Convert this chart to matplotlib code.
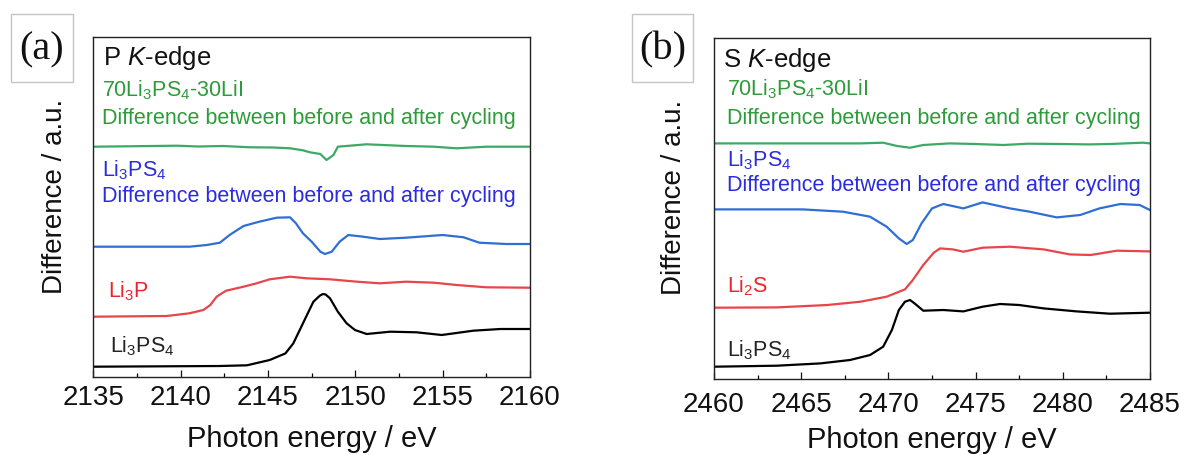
import matplotlib
matplotlib.use("Agg")
import matplotlib.pyplot as plt
from matplotlib.patches import Rectangle

plt.rcParams['font.family'] = ['Liberation Sans', 'DejaVu Sans']
plt.rcParams['mathtext.fontset'] = 'custom'
plt.rcParams['mathtext.rm'] = 'Liberation Sans'
plt.rcParams['mathtext.it'] = 'Liberation Sans:italic'
plt.rcParams['mathtext.bf'] = 'Liberation Sans:bold'

# ---------------- Panel (a): P K-edge ----------------
p_ticks = [2135, 2140, 2145, 2150, 2155, 2160]

p_black_x = [2135.0, 2142.25, 2143.8, 2145.1, 2146.0, 2146.45, 2147.0, 2147.6, 2147.98, 2148.15, 2148.3,
             2148.55, 2149.0, 2149.5, 2149.98, 2150.65, 2152.0, 2153.5, 2154.95, 2156.75, 2158.3, 2160.0]
p_black_y = [10.6, 11.3, 12.0, 17.3, 23.9, 33.9, 53.9, 75.6, 81.8, 83.3, 82.8,
             79.0, 65.6, 54.0, 47.3, 43.3, 45.6, 45.0, 42.3, 46.6, 48.3, 48.3]

p_red_x = [2135.0, 2139.2, 2140.5, 2141.3, 2141.7, 2142.06, 2142.6, 2143.6, 2144.35, 2145.1,
           2146.26, 2147.2, 2148.55, 2150.1, 2151.4, 2152.9, 2154.5, 2155.8, 2157.5, 2160.0]
p_red_y = [60.6, 61.3, 64.0, 67.3, 72.3, 80.6, 86.6, 90.6, 94.0, 98.0,
           100.6, 99.0, 98.0, 95.6, 94.0, 95.6, 94.6, 92.3, 90.0, 89.6]

p_blue_x = [2135.0, 2140.5, 2141.5, 2142.25, 2142.8, 2143.6, 2144.5, 2145.5, 2146.26, 2146.6,
            2147.0, 2147.5, 2148.0, 2148.26, 2148.65, 2149.1, 2149.6, 2150.45, 2151.4, 2152.9,
            2155.0, 2156.2, 2157.1, 2158.65, 2160.0]
p_blue_y = [130.6, 130.6, 132.3, 134.6, 142.3, 151.3, 155.6, 159.6, 160.0, 154.0,
            144.0, 135.6, 125.6, 123.3, 125.6, 135.6, 142.3, 140.6, 138.3, 139.6,
            142.3, 140.0, 134.6, 133.3, 133.3]

p_green_x = [2135.0, 2137.0, 2139.8, 2141.0, 2142.4, 2144.0, 2145.3, 2146.26, 2147.0, 2147.4,
             2148.0, 2148.35, 2148.75, 2149.0, 2150.65, 2152.9, 2154.5, 2155.8, 2157.5, 2160.0]
p_green_y = [230.6, 231.0, 231.6, 230.8, 231.3, 230.0, 229.8, 229.0, 227.0, 225.0,
             223.3, 217.3, 222.3, 230.6, 233.0, 231.3, 230.6, 229.0, 230.6, 230.6]

# ---------------- Panel (b): S K-edge ----------------
s_ticks = [2460, 2465, 2470, 2475, 2480, 2485]

s_black_x = [2460.0, 2463.6, 2466.1, 2467.8, 2468.95, 2469.7, 2470.2, 2470.6, 2470.95, 2471.24,
             2471.5, 2472.0, 2473.15, 2474.3, 2475.4, 2476.4, 2477.5, 2478.9, 2480.8, 2482.7, 2485.0]
s_black_y = [12.3, 13.3, 15.6, 19.0, 24.0, 32.3, 49.0, 69.0, 77.3, 79.0,
             75.6, 68.3, 69.0, 67.6, 72.3, 75.0, 74.0, 70.6, 67.6, 65.3, 66.3]

s_red_x = [2460.0, 2463.6, 2466.5, 2468.4, 2469.9, 2470.95, 2471.4, 2472.0, 2472.6, 2472.96,
           2473.7, 2474.3, 2475.4, 2476.97, 2478.9, 2480.4, 2481.6, 2483.1, 2485.0]
s_red_y = [71.3, 71.6, 74.0, 77.3, 82.3, 89.6, 99.0, 114.0, 126.3, 130.6,
           129.6, 127.3, 131.3, 132.3, 129.6, 124.6, 124.0, 128.3, 127.6]

s_blue_x = [2460.0, 2465.1, 2467.4, 2468.95, 2469.9, 2470.6, 2471.05, 2471.4, 2471.9, 2472.5,
            2473.15, 2474.3, 2475.4, 2476.97, 2478.1, 2479.65, 2481.0, 2482.1, 2483.3, 2484.4, 2485.0]
s_blue_y = [169.6, 169.6, 167.3, 162.3, 152.3, 140.6, 135.0, 139.0, 155.6, 170.6,
            175.0, 170.6, 176.6, 170.6, 167.3, 161.6, 164.0, 170.6, 175.0, 174.0, 169.0]

s_green_x = [2460.0, 2465.0, 2468.4, 2469.7, 2470.5, 2471.24, 2472.0, 2473.5, 2475.0, 2476.6,
             2478.0, 2479.9, 2481.5, 2482.7, 2484.6, 2485.0]
s_green_y = [235.6, 235.6, 235.6, 236.3, 233.0, 231.3, 234.0, 235.6, 235.0, 234.0,
             235.3, 235.0, 234.6, 235.0, 236.3, 235.6]

# colours
LINE_GREEN, TEXT_GREEN = '#3caa66', '#2e9b3b'
LINE_BLUE, TEXT_BLUE = '#2f6fd4', '#2b2bdf'
LINE_RED, TEXT_RED = '#e8454a', '#e8262b'
LINE_BLACK, TEXT_BLACK = '#000000', '#222222'

W, H = 1184, 455
fig = plt.figure(figsize=(W / 100, H / 100), dpi=100)


def fx(px):
    return px / W


def fy(py):
    return 1 - py / H


def make_axes(left, right, top, bottom, ticks, tickpad):
    ax = fig.add_axes([fx(left), fy(bottom), fx(right - left), (bottom - top) / H])
    ax.set_xlim(ticks[0], ticks[-1])
    ax.set_ylim(0, bottom - top)
    ax.set_xticks(ticks)
    ax.set_xticks([t + 2.5 for t in ticks[:-1]], minor=True)
    ax.set_yticks([])
    ax.tick_params(axis='x', which='major', direction='in', length=5, width=0.9,
                   labelsize=20, pad=tickpad, colors='#111111')
    ax.tick_params(axis='x', which='minor', direction='in', length=3, width=0.9)
    for s in ax.spines.values():
        s.set_linewidth(1.0)
        s.set_color('#222222')
    return ax


def label_box(x0, x1, y0, y1, txt, cx, cy):
    fig.patches.append(Rectangle((fx(x0), fy(y1)), fx(x1 - x0), (y1 - y0) / H,
                                 transform=fig.transFigure, fill=False,
                                 edgecolor='#c4c4c4', linewidth=1.0))
    fig.text(fx(cx), fy(cy), txt, family='Liberation Serif', fontsize=29,
             ha='center', va='center', color='#111111')


FS = 15.5

# ---- panel (a)
axa = make_axes(93.3, 530.0, 37.3, 377.3, p_ticks, 5.5)
axa.plot(p_black_x, p_black_y, color=LINE_BLACK, lw=1.6)
axa.plot(p_red_x, p_red_y, color=LINE_RED, lw=1.6)
axa.plot(p_blue_x, p_blue_y, color=LINE_BLUE, lw=1.6)
axa.plot(p_green_x, p_green_y, color=LINE_GREEN, lw=1.6)
axa.text(2135.56, 312.3, 'P $K$-edge', fontsize=18.5, color='#111111', va='baseline')
axa.text(2135.48, 280.6, '70Li$_3$PS$_4$-30LiI', fontsize=FS, color=TEXT_GREEN, va='baseline')
axa.text(2135.48, 253.0, 'Difference between before and after cycling', fontsize=FS,
         color=TEXT_GREEN, va='baseline')
axa.text(2135.48, 200.6, 'Li$_3$PS$_4$', fontsize=FS, color=TEXT_BLUE, va='baseline')
axa.text(2135.48, 175.0, 'Difference between before and after cycling', fontsize=FS,
         color=TEXT_BLUE, va='baseline')
axa.text(2135.84, 79.6, 'Li$_3$P', fontsize=FS, color=TEXT_RED, va='baseline')
axa.text(2135.96, 25.0, 'Li$_3$PS$_4$', fontsize=FS, color=TEXT_BLACK, va='baseline')

# ---- panel (b)
axb = make_axes(714.0, 1150.0, 38.3, 379.0, s_ticks, 9)
axb.plot(s_black_x, s_black_y, color=LINE_BLACK, lw=1.6)
axb.plot(s_red_x, s_red_y, color=LINE_RED, lw=1.6)
axb.plot(s_blue_x, s_blue_y, color=LINE_BLUE, lw=1.6)
axb.plot(s_green_x, s_green_y, color=LINE_GREEN, lw=1.6)
axb.text(2460.53, 312.3, 'S $K$-edge', fontsize=18.5, color='#111111', va='baseline')
axb.text(2460.73, 284.0, '70Li$_3$PS$_4$-30LiI', fontsize=FS, color=TEXT_GREEN, va='baseline')
axb.text(2460.73, 255.0, 'Difference between before and after cycling', fontsize=FS,
         color=TEXT_GREEN, va='baseline')
axb.text(2460.73, 212.3, 'Li$_3$PS$_4$', fontsize=FS, color=TEXT_BLUE, va='baseline')
axb.text(2460.73, 188.0, 'Difference between before and after cycling', fontsize=FS,
         color=TEXT_BLUE, va='baseline')
axb.text(2460.73, 86.3, 'Li$_2$S', fontsize=FS, color=TEXT_RED, va='baseline')
axb.text(2460.73, 22.3, 'Li$_3$PS$_4$', fontsize=FS, color=TEXT_BLACK, va='baseline')

# axis labels
fig.text(fx(312.0), fy(447.0), 'Photon energy / eV', fontsize=21, ha='center',
         va='baseline', color='#111111')
fig.text(fx(932.0), fy(448.0), 'Photon energy / eV', fontsize=21, ha='center',
         va='baseline', color='#111111')
fig.text(fx(55.0), fy(196.0), 'Difference / a.u.', fontsize=20, rotation=90,
         ha='center', va='center', color='#111111')
fig.text(fx(674.0), fy(197.5), 'Difference / a.u.', fontsize=20, rotation=90,
         ha='center', va='center', color='#111111')

# panel labels
label_box(10.7, 73.3, 14.3, 82.3, '(a)', 42.0, 50.0)
label_box(631.7, 693.3, 14.3, 82.3, '(b)', 662.5, 50.0)

fig.savefig('out.png', dpi=100)
